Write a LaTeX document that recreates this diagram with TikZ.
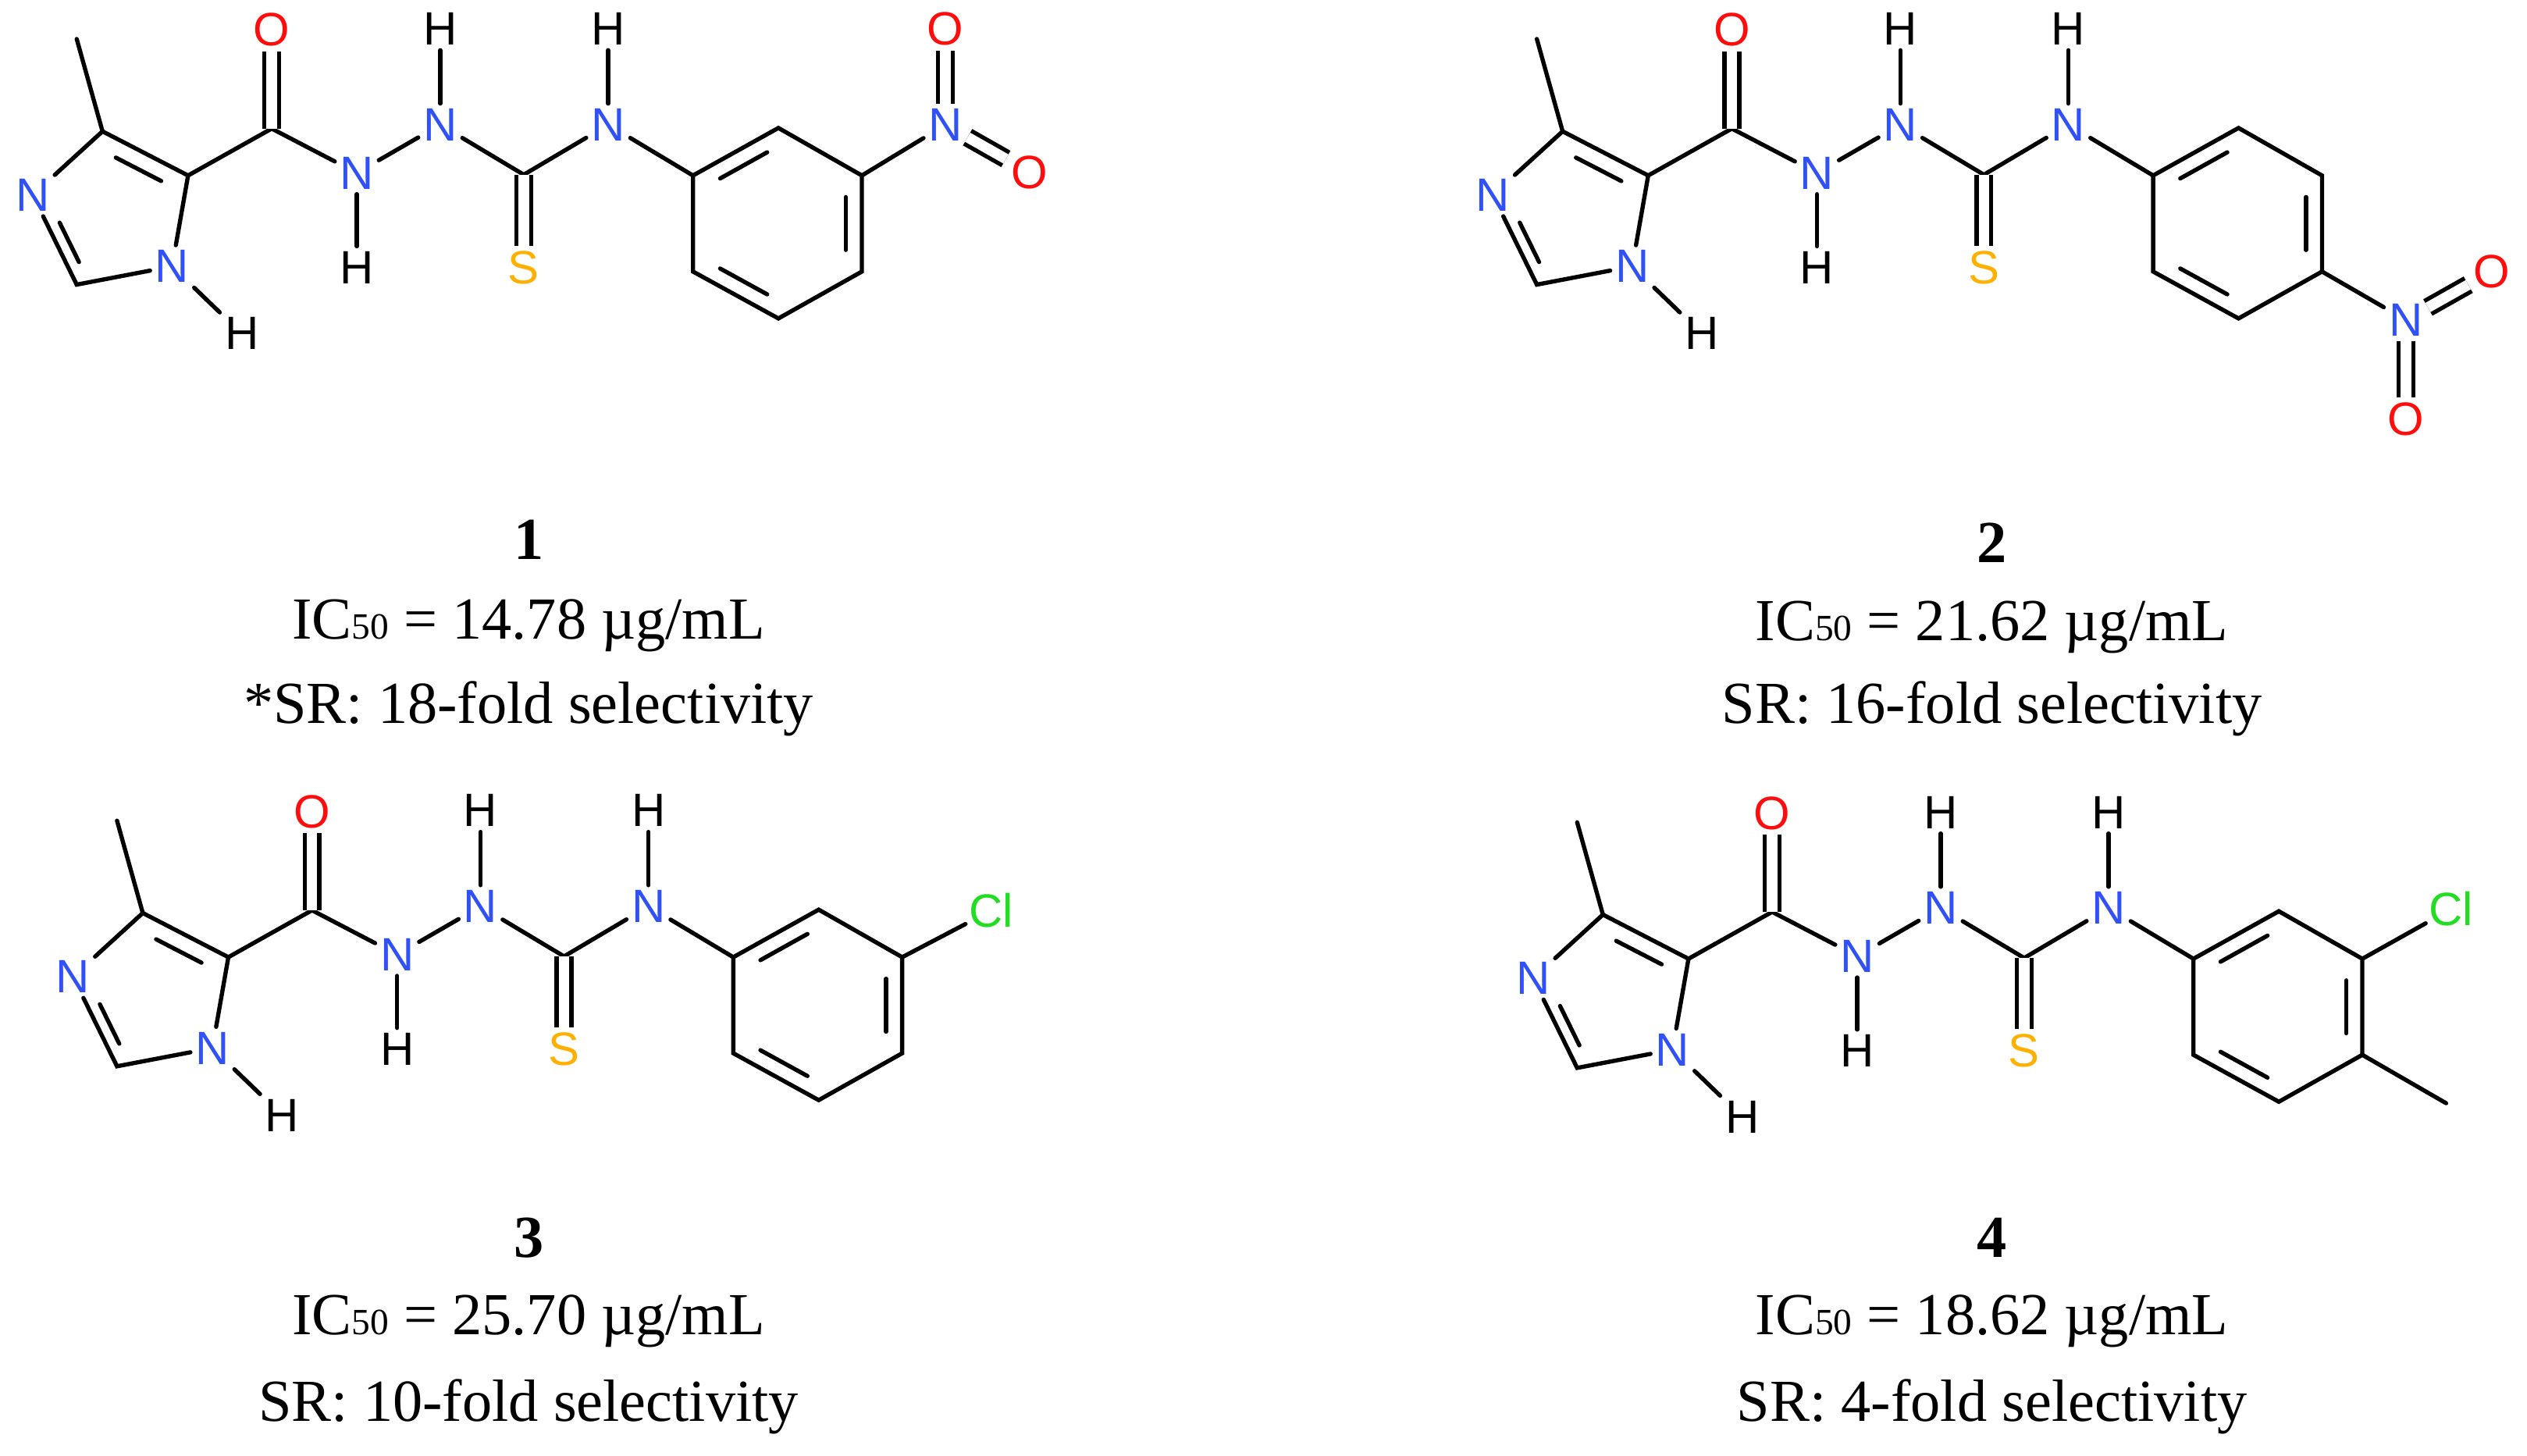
\documentclass[tikz,border=0pt]{standalone}
\usepackage{fontspec}
\setmainfont{Liberation Serif}
\newfontfamily\atomfont{Liberation Sans}
\usetikzlibrary{calc}
\definecolor{nblue}{HTML}{3050F8}
\definecolor{ored}{HTML}{FF0D0D}
\definecolor{syel}{HTML}{FFB000}
\definecolor{clgr}{HTML}{22DD22}
\tikzset{
  atom/.style={font=\atomfont\fontsize{29}{29}\selectfont, inner sep=3pt},
  nat/.style={atom, text=nblue},
  oat/.style={atom, text=ored},
  sat/.style={atom, text=syel},
  clat/.style={atom, text=clgr, inner sep=2pt},
  hat/.style={atom, text=black},
  bond/.style={line width=2.6pt, line cap=round},
  dbl/.style={line width=2.6pt, double=white, double distance=6.5pt},
  captxt/.style={font=\fontsize{37}{37}\selectfont},
  capbold/.style={font=\bfseries\fontsize{37}{37}\selectfont},
}
\newcommand{\inner}[4]{\draw[bond] ($($(#1)!0.16!(#2)$)!#4!(#3)$) -- ($($(#2)!0.16!(#1)$)!#4!(#3)$);}
\newcommand{\core}[1]{%
  \coordinate (#1C4) at (63.6,81.5);
  \coordinate (#1C5) at (116.7,108.9);
  \node[nat] (#1N3) at (20.3,121) {N};
  \coordinate (#1C2) at (47.6,176.6);
  \node[nat] (#1N1) at (106.8,165.3) {N};
  \node[hat] (#1H1) at (150,207) {H};
  \coordinate (#1Me) at (47.6,24.2);
  \coordinate (#1Cc) at (168.6,79.8);
  \node[oat] (#1O) at (168.6,18.5) {O};
  \node[nat] (#1Na) at (221.4,107.3) {N};
  \node[hat] (#1Ha) at (221.4,166) {H};
  \node[nat] (#1Nb) at (273.2,77.4) {N};
  \node[hat] (#1Hb) at (273.2,18) {H};
  \coordinate (#1Ct) at (325,108.4);
  \node[sat] (#1S) at (325,166) {S};
  \node[nat] (#1Nc) at (377.4,77.4) {N};
  \node[hat] (#1Hc) at (377.4,18) {H};
  \coordinate (#1R1) at (430,108.9);
  \coordinate (#1R2) at (483,79.4);
  \coordinate (#1R3) at (534.8,108.9);
  \coordinate (#1R4) at (534.8,168.5);
  \coordinate (#1R5) at (483,197.6);
  \coordinate (#1R6) at (430,168.5);
  \coordinate (#1Rc) at (482.4,138.7);
  \coordinate (#1Ic) at (71,140);
  \draw[bond] (#1Me) -- (#1C4) -- (#1N3);
  \draw[bond] (#1N3) -- (#1C2) -- (#1N1) -- (#1C5) -- (#1C4);
  \draw[bond] (#1N1) -- (#1H1);
  \inner{#1C4}{#1C5}{#1Ic}{0.22}
  \draw[bond] ($(#1N3)!0.3!(#1C2)!0.2!(#1Ic)$) -- ($(#1N3)!0.85!(#1C2)!0.2!(#1Ic)$);
  \draw[bond] (#1C5) -- (#1Cc) -- (#1Na);
  \draw[dbl] (#1Cc) -- (#1O);
  \draw[bond] (#1Na) -- (#1Ha);
  \draw[bond] (#1Na) -- (#1Nb);
  \draw[bond] (#1Nb) -- (#1Hb);
  \draw[bond] (#1Nb) -- (#1Ct) -- (#1Nc);
  \draw[dbl] (#1Ct) -- (#1S);
  \draw[bond] (#1Nc) -- (#1Hc);
  \draw[bond] (#1Nc) -- (#1R1);
  \draw[bond] (#1R1) -- (#1R2) -- (#1R3) -- (#1R4) -- (#1R5) -- (#1R6) -- cycle;
  \inner{#1R1}{#1R2}{#1Rc}{0.19}
  \inner{#1R3}{#1R4}{#1Rc}{0.19}
  \inner{#1R5}{#1R6}{#1Rc}{0.19}
}
\begin{document}
\begin{tikzpicture}[x=1pt,y=-1pt]
\useasboundingbox (0,0) rectangle (1568,903.4);
% molecule 1
\begin{scope}
  \core{a}
  \node[nat] (aNn) at (586.7,77.4) {N};
  \node[oat] (aO1) at (586.7,18) {O};
  \node[oat] (aO2) at (638.6,106.8) {O};
  \draw[bond] (aR3) -- (aNn);
  \draw[dbl] (aNn) -- (aO1);
  \draw[dbl] (aNn) -- (aO2);
\end{scope}
% molecule 2
\begin{scope}[shift={(906,0)}]
  \core{b}
  \node[nat] (bNn) at (586.8,198.5) {N};
  \node[oat] (bO1) at (640,168.5) {O};
  \node[oat] (bO2) at (586.8,260) {O};
  \draw[bond] (bR4) -- (bNn);
  \draw[dbl] (bNn) -- (bO1);
  \draw[dbl] (bNn) -- (bO2);
\end{scope}
% molecule 3
\begin{scope}[shift={(25,485)}]
  \core{c}
  \node[clat] (cCl) at (590,80) {Cl};
  \draw[bond] (cR3) -- (cCl);
\end{scope}
% molecule 4
\begin{scope}[shift={(931,486)}]
  \core{d}
  \node[clat] (dCl) at (590,78) {Cl};
  \coordinate (dMe2) at (586.8,198.5);
  \draw[bond] (dR3) -- (dCl);
  \draw[bond] (dR4) -- (dMe2);
\end{scope}
% captions
\newcommand{\icf}[1]{IC{\fontsize{23}{23}\selectfont 50} = #1 µg/mL}
\node[capbold] (t1) at (328,335) {1};
\node[captxt] (i1) at (328,388) {\icf{14.78}};
\node[captxt] (s1) at (328,440) {*SR: 18-fold selectivity};
\node[capbold] (t2) at (1236,337) {2};
\node[captxt] (i2) at (1236,389) {\icf{21.62}};
\node[captxt] (s2) at (1236,440) {SR: 16-fold selectivity};
\node[capbold] (t3) at (328,768) {3};
\node[captxt] (i3) at (328,820) {\icf{25.70}};
\node[captxt] (s3) at (328,873) {SR: 10-fold selectivity};
\node[capbold] (t4) at (1236,768) {4};
\node[captxt] (i4) at (1236,820) {\icf{18.62}};
\node[captxt] (s4) at (1236,873) {SR: 4-fold selectivity};
\end{tikzpicture}
\end{document}
